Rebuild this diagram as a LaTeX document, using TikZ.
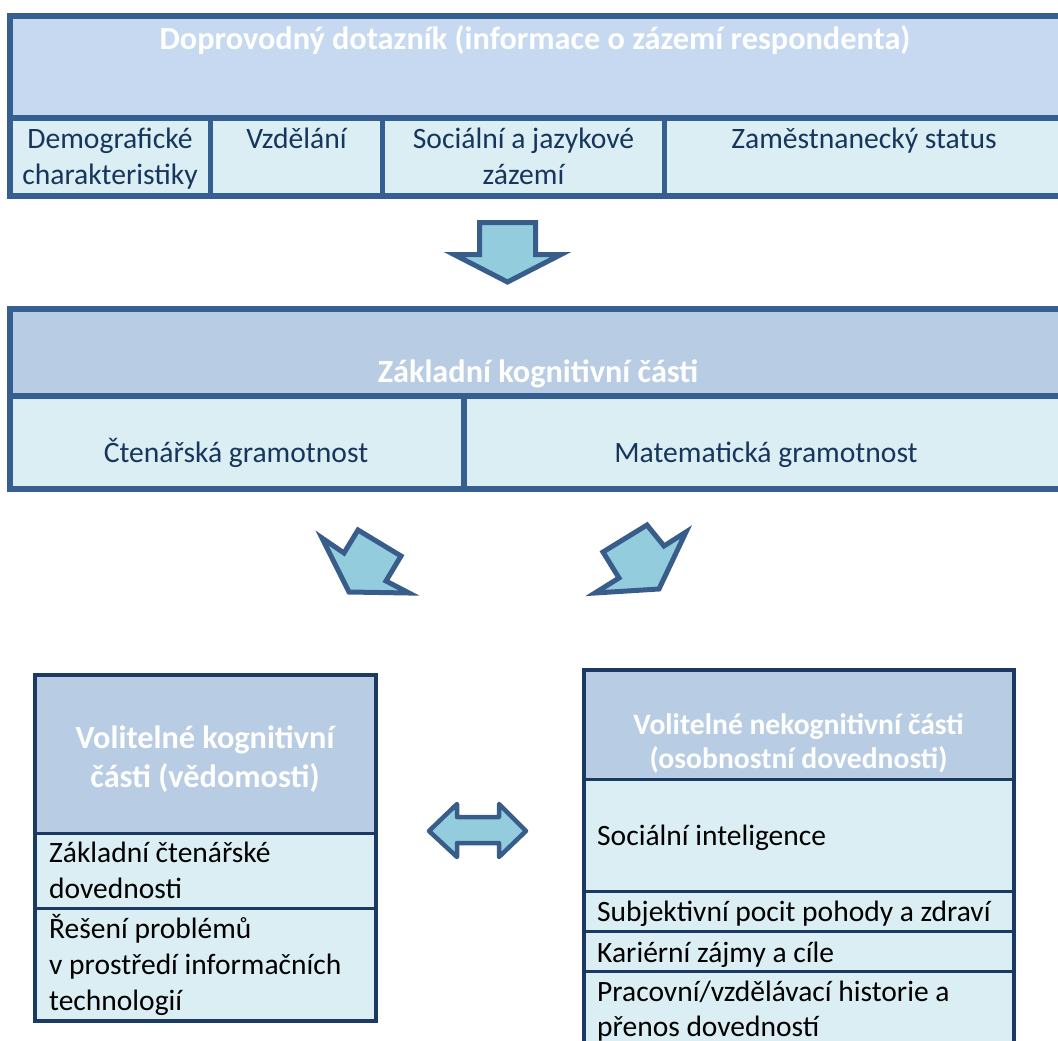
\documentclass[tikz,border=0pt]{standalone}
\usepackage{fontspec}
\setmainfont{Carlito}
\definecolor{topborder}{HTML}{365F91}
\definecolor{hdrA}{HTML}{C6D9F1}
\definecolor{hdrB}{HTML}{B8CCE4}
\definecolor{cellc}{HTML}{DBEEF4}
\definecolor{navy}{HTML}{1B3A63}
\definecolor{celltext}{HTML}{17365D}
\definecolor{arrfill}{HTML}{93CDDD}
\definecolor{arrline}{HTML}{385D8A}
\begin{document}
\begin{tikzpicture}[x=1pt,y=-1pt,
  tbline/.style={draw=topborder,line width=5.5pt},
  sbline/.style={draw=topborder,line width=6pt},
  lbline/.style={draw=navy,line width=4pt},
  ilbline/.style={draw=navy,line width=3pt},
  blockarrow/.style={fill=arrfill,draw=arrline,line width=5pt,line join=miter},
  hdrtext/.style={inner sep=0pt,anchor=base,align=center,text=white,font=\fontsize{32.3}{39}\selectfont\bfseries},
  celltxt/.style={inner sep=0pt,anchor=base,align=center,text=celltext,font=\fontsize{29.6}{36}\selectfont},
  rowtxt/.style={inner sep=0pt,anchor=base west,align=left,text=black,font=\fontsize{29.5}{36}\selectfont}]
\useasboundingbox (0,0) rectangle (1058,1041);
\clip (0,0) rectangle (1058,1041);
% ---------- top box ----------
\fill[hdrA] (9.75,16) rectangle (1061,118);
\fill[cellc] (9.75,118) rectangle (1061,196);
\draw[tbline] (9.75,16) rectangle (1061,196);
\draw[tbline] (9.75,118) -- (1061,118);
\draw[tbline] (210.5,118) -- (210.5,196);
\draw[tbline] (382.5,118) -- (382.5,196);
\draw[tbline] (664.5,118) -- (664.5,196);
\node[hdrtext] (h1) at (535,50) {Doprovodný dotazník (informace o zázemí respondenta)};
\node[celltxt] (c11) at (110,184) {Demografické\\charakteristiky};
\node[celltxt] (c12) at (296.5,148) {Vzdělání};
\node[celltxt] (c13) at (523.5,184) {Sociální a jazykové\\zázemí};
\node[celltxt] (c14) at (864,148) {Zaměstnanecký status};
% ---------- down arrow ----------
\draw[blockarrow] (479.5,222.5) -- (535.5,222.5) -- (535.5,254.5) -- (561,254.5) -- (507.5,282) -- (454,254.5) -- (479.5,254.5) -- cycle;
% ---------- second box ----------
\fill[hdrB] (10,309) rectangle (1065,395.5);
\fill[cellc] (10,395.5) rectangle (1065,489);
\draw[sbline] (10,309) rectangle (1065,489);
\draw[sbline] (10,395.5) -- (1065,395.5);
\draw[sbline] (464,395.5) -- (464,489);
\node[hdrtext] (h2) at (538,382) {Základní kognitivní části};
\node[celltxt] (c21) at (236,462) {Čtenářská gramotnost};
\node[celltxt] (c22) at (766,462) {Matematická gramotnost};
% ---------- diagonal arrows ----------
\draw[blockarrow] (322,538) -- (344,553) -- (358,530) -- (401,556) -- (386,581) -- (409,593) -- (349,592) -- cycle;
\draw[blockarrow] (595,593) -- (619,578) -- (603,552) -- (647,525) -- (664,546) -- (686,532) -- (659,589) -- cycle;
% ---------- lower left box ----------
\fill[hdrB] (35,675) rectangle (375.5,833.5);
\fill[cellc] (35,833.5) rectangle (375.5,1021);
\draw[lbline] (35,675) rectangle (375.5,1021);
\draw[ilbline] (35,833.5) -- (375.5,833.5);
\draw[ilbline] (35,908.5) -- (375.5,908.5);
\node[hdrtext] (h3) at (205,787) {Volitelné kognitivní\\části (vědomosti)};
\node[rowtxt] (r31) at (49,898) {Základní čtenářské\\dovednosti};
\node[rowtxt] (r32) at (49,1010) {Řešení problémů\\v prostředí informačních\\technologií};
% ---------- double arrow ----------
\draw[blockarrow,line width=4.5pt,line join=round] (429,831) -- (457,804) -- (457,817) -- (499,817) -- (499,804) -- (526,831) -- (499,857) -- (499,843) -- (457,843) -- (457,857) -- cycle;
% ---------- lower right box ----------
\fill[hdrB] (583.5,669.5) rectangle (1013.5,779);
\fill[cellc] (583.5,779) rectangle (1013.5,1050);
\draw[lbline] (583.5,1050) -- (583.5,669.5) -- (1013.5,669.5) -- (1013.5,1050);
\draw[ilbline] (583.5,779) -- (1013.5,779);
\draw[ilbline] (583.5,891) -- (1013.5,891);
\draw[ilbline] (583.5,931) -- (1013.5,931);
\draw[ilbline] (583.5,971) -- (1013.5,971);
\node[hdrtext,font=\fontsize{29.6}{34}\selectfont\bfseries] (h4) at (798.5,768) {Volitelné nekognitivní části\\(osobnostní dovednosti)};
\node[rowtxt] (r41) at (597,845) {Sociální inteligence};
\node[rowtxt] (r42) at (597,921) {Subjektivní pocit pohody a zdraví};
\node[rowtxt] (r43) at (597,962) {Kariérní zájmy a cíle};
\node[rowtxt,font=\fontsize{29.5}{35}\selectfont] (r44) at (597,1036) {Pracovní/vzdělávací historie a\\přenos dovedností};
\end{tikzpicture}
\end{document}
